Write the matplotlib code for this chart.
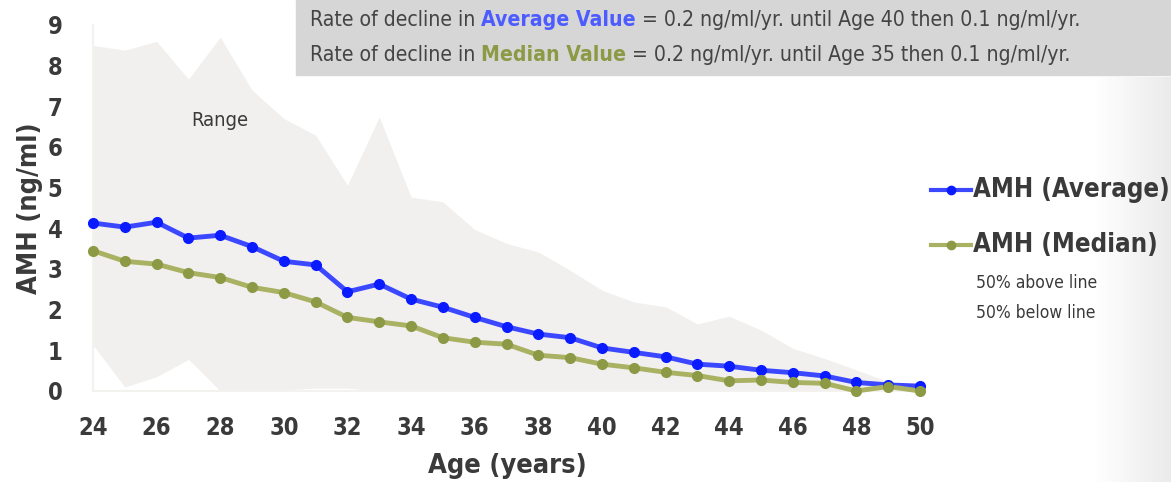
import matplotlib.pyplot as plt
import numpy as np

ages = list(range(24, 51))
amh_avg = [4.13, 4.03, 4.15, 3.76, 3.83, 3.55, 3.19, 3.10, 2.44, 2.63, 2.26, 2.06, 1.81,
           1.58, 1.40, 1.31, 1.06, 0.95, 0.84, 0.66, 0.61, 0.51, 0.45, 0.37, 0.21, 0.15, 0.12]
amh_med = [3.45, 3.19, 3.12, 2.91, 2.79, 2.55, 2.42, 2.19, 1.81, 1.70, 1.60, 1.31, 1.20,
           1.15, 0.88, 0.82, 0.66, 0.57, 0.46, 0.38, 0.25, 0.27, 0.21, 0.19, 0.0, 0.11, 0.0]
range_hi = [8.50, 8.38, 8.60, 7.67, 8.70, 7.40, 6.70, 6.29, 5.06, 6.74, 4.77, 4.65, 3.97,
            3.63, 3.42, 2.97, 2.48, 2.19, 2.07, 1.65, 1.84, 1.50, 1.05, 0.80, 0.52, 0.23, 0.10]
range_lo = [1.13, 0.10, 0.35, 0.78, 0.0, 0.0, 0.03, 0.07, 0.07, 0.0, 0.0, 0.0, 0.0,
            0.0, 0.0, 0.0, 0.0, 0.0, 0.0, 0.0, 0.0, 0.0, 0.0, 0.0, 0.0, 0.0, 0.0]

plt.rcParams['font.family'] = ['DejaVu Sans']
cond = dict(fontstretch='condensed')
txt = '#3a3a3a'

fig = plt.figure(figsize=(11.71, 4.82), dpi=100)

# faint gradient at right edge
bg = fig.add_axes([0.935, 0, 0.065, 0.84], zorder=-5)
grad = np.linspace(1, 0.92, 100).reshape(1, -1)
bg.imshow(np.dstack([grad, grad, grad]), aspect='auto', extent=[0, 1, 0, 1])
bg.axis('off')

ax = fig.add_axes([93/1171, (482-391)/482, (920-93)/1171, (391-25)/482])
ax.fill_between(ages, range_lo, range_hi, color='#f1f0ee', lw=0, zorder=1)
ax.plot(ages, amh_avg, color='#3c48ff', lw=3.5, zorder=3, clip_on=False)
ax.plot(ages, amh_avg, 'o', color='#0a1cff', ms=7, zorder=4, clip_on=False)
ax.plot(ages, amh_med, color='#a9b163', lw=3.5, zorder=3, clip_on=False)
ax.plot(ages, amh_med, 'o', color='#8c9a46', ms=7, zorder=4, clip_on=False)

ax.set_xlim(24, 50)
ax.set_ylim(0, 9)
ax.set_xticks(range(24, 51, 2))
ax.set_yticks(range(0, 10))
ax.tick_params(length=0, labelsize=17, colors=txt)
ax.tick_params(axis='x', pad=18)
ax.tick_params(axis='y', pad=22)
for lab in ax.get_xticklabels() + ax.get_yticklabels():
    lab.set_fontweight('bold')
    lab.set_fontstretch('condensed')
for s in ['top', 'right']:
    ax.spines[s].set_visible(False)
for s in ['left', 'bottom']:
    ax.spines[s].set_color('#f4f2ee')
    ax.spines[s].set_linewidth(1.5)

ax.text(28.0, 6.66, 'Range', fontsize=14.5, color=txt, ha='center', va='center', **cond)

fig.text(507/1171, 1 - 466/482, 'Age (years)', fontsize=19.5, fontweight='bold', color=txt,
         ha='center', va='center', **cond)
fig.text(30/1171, 1 - 208/482, 'AMH (ng/ml)', fontsize=19.5, fontweight='bold', color=txt,
         rotation=90, ha='center', va='center', **cond)

# note box
fig.patches.append(plt.Rectangle((296/1171, 1 - 75/482), 1 - 296/1171, 75/482,
                                 transform=fig.transFigure, color='#d6d6d6', zorder=0))
lines = [('Average Value', '#4d5cff', '40'), ('Median Value', '#8c9a46', '35')]
for i, (name, col, age) in enumerate(lines):
    y = 1 - (20 + 35 * i) / 482
    t1 = fig.text(310/1171, y, 'Rate of decline in ', fontsize=15.2, color='#444', va='center', **cond)
    fig.canvas.draw()
    bb = t1.get_window_extent()
    t2 = fig.text(bb.x1 / fig.bbox.width, y, name, fontsize=15.2, color=col, fontweight='bold',
                  va='center', **cond)
    bb2 = t2.get_window_extent()
    fig.text(bb2.x1 / fig.bbox.width, y,
             ' = 0.2 ng/ml/yr. until Age ' + age + ' then 0.1 ng/ml/yr.',
             fontsize=15.2, color='#444', va='center', **cond)

# legend drawn by hand
for i, (lab, lc, mc) in enumerate([('AMH (Average)', '#3c48ff', '#0a1cff'),
                                   ('AMH (Median)', '#a9b163', '#8c9a46')]):
    y = 1 - (190 + 55 * i) / 482
    fig.add_artist(plt.Line2D([931/1171, 971/1171], [y, y], color=lc, lw=3,
                              transform=fig.transFigure))
    fig.add_artist(plt.Line2D([951/1171], [y], marker='o', ms=6, color=mc,
                              transform=fig.transFigure))
    fig.text(973/1171, y, lab, fontsize=18.5, fontweight='bold', color=txt, va='center', **cond)
fig.text(976/1171, 1 - 283/482, '50% above line', fontsize=12.5, color=txt, va='center', **cond)
fig.text(976/1171, 1 - 313/482, '50% below line', fontsize=12.5, color=txt, va='center', **cond)

fig.savefig('out.png', dpi=100)
